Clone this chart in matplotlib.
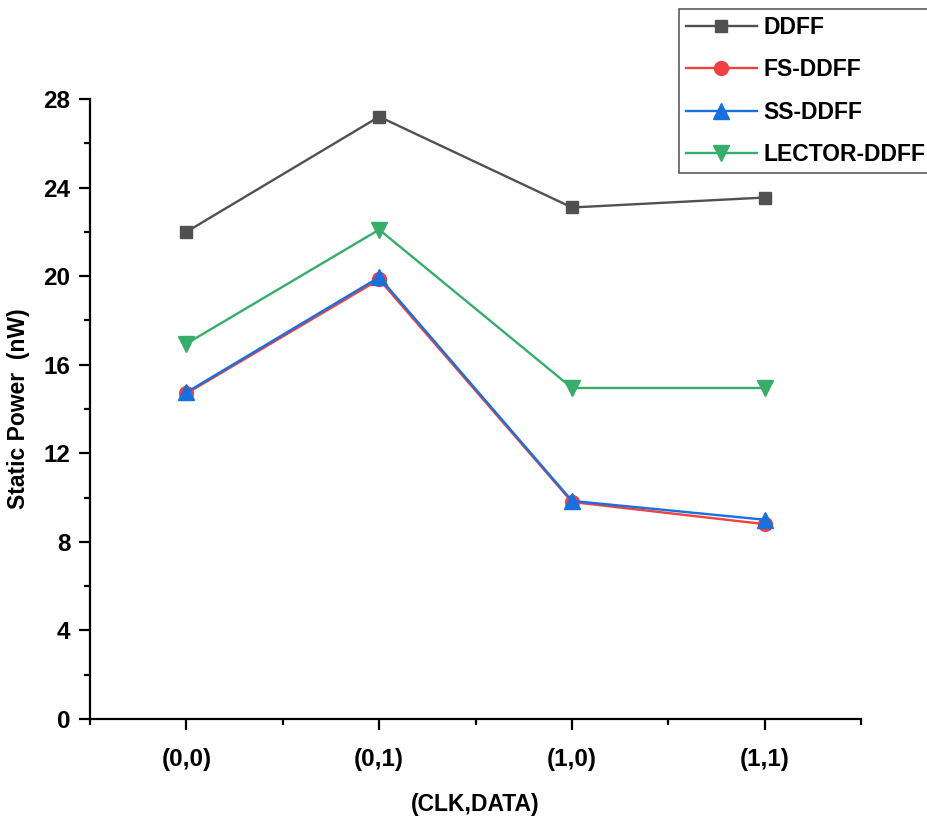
import numpy as np
import matplotlib
matplotlib.use('Agg')
import matplotlib.pyplot as plt
from matplotlib.ticker import MultipleLocator

plt.rcParams['font.family'] = ['Liberation Sans', 'DejaVu Sans']
plt.rcParams['font.weight'] = 'bold'

states = ['(0,0)', '(0,1)', '(1,0)', '(1,1)']
ddff = [22.0, 27.2, 23.1, 23.55]
fs_ddff = [14.7, 19.85, 9.8, 8.8]
ss_ddff = [14.75, 19.95, 9.85, 9.0]
lector_ddff = [16.95, 22.1, 14.95, 14.95]

x = np.arange(len(states))

fig = plt.figure(figsize=(9.28, 8.18), dpi=100)
ax = fig.add_axes([0.097, 0.121, 0.831, 0.758])

ax.plot(x, ddff, color='#515151', lw=1.7, marker='s', ms=9, label='DDFF')
ax.plot(x, fs_ddff, color='#F14040', lw=1.7, marker='o', ms=10, label='FS-DDFF')
ax.plot(x, ss_ddff, color='#1A6FDF', lw=1.7, marker='^', ms=11, label='SS-DDFF')
ax.plot(x, lector_ddff, color='#37AD6B', lw=1.7, marker='v', ms=11, label='LECTOR-DDFF')

ax.set_xlim(-0.5, 3.5)
ax.set_ylim(0, 28)
ax.set_xticks(x)
ax.set_xticklabels(states)
ax.xaxis.set_minor_locator(MultipleLocator(0.5))
ax.yaxis.set_major_locator(MultipleLocator(4))
ax.yaxis.set_minor_locator(MultipleLocator(2))

for s in ['top', 'right']:
    ax.spines[s].set_visible(False)
for s in ['left', 'bottom']:
    ax.spines[s].set_linewidth(1.6)

ax.tick_params(which='major', direction='out', length=8, width=1.6, labelsize=17.5, pad=6)
ax.tick_params(which='minor', direction='out', length=4, width=1.6)
ax.tick_params(axis='x', which='major', pad=13)

ax.set_xlabel('(CLK,DATA)', fontsize=16.5, fontweight='bold', labelpad=16)
ax.set_ylabel('Static Power  (nW)', fontsize=16.5, fontweight='bold', labelpad=10)

leg = fig.legend(loc='upper left', bbox_to_anchor=(679 / 928, 1 - 9 / 818),
                 fontsize=16.5, frameon=True, fancybox=False, edgecolor='#333333',
                 handlelength=3.1, labelspacing=0.85, borderaxespad=0,
                 handletextpad=0.3, borderpad=0.3)
leg.get_frame().set_linewidth(1.2)
for t in leg.get_texts():
    t.set_fontweight('bold')

fig.savefig('out.png', dpi=100)
